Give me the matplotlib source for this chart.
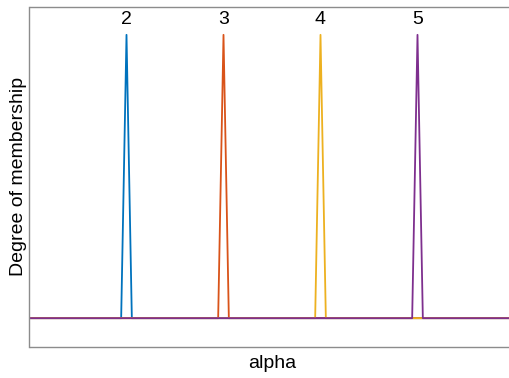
import matplotlib.pyplot as plt
import numpy as np

plt.rcParams["font.family"] = ["Liberation Sans", "DejaVu Sans"]

# triangular membership functions: (left foot, peak, right foot)
names = ["2", "3", "4", "5"]
left_feet = [1.945, 2.945, 3.945, 4.945]
peaks = [2.0, 3.0, 4.0, 5.0]
right_feet = [2.055, 3.055, 4.055, 5.055]
colors = ["#0072BD", "#D95319", "#EDB120", "#7E2F8E"]

x_range = (1.0, 6.0)
y_range = (-0.1, 1.1)


def trimf(x, a, b, c):
    up = (x - a) / (b - a)
    down = (c - x) / (c - b)
    return np.clip(np.minimum(up, down), 0, 1)


fig = plt.figure(figsize=(5.10, 3.78), dpi=100)
ax = fig.add_axes([29.5 / 510, 31.5 / 378, 485 / 510, 340 / 378])

for name, a, b, c, col in zip(names, left_feet, peaks, right_feet, colors):
    xs = np.array([x_range[0], a, b, c, x_range[1]])
    ax.plot(xs, trimf(xs, a, b, c), color=col, lw=1.3)
    ax.text(b, 1.025, name, ha="center", va="bottom", fontsize=14)

ax.set_xlim(*x_range)
ax.set_ylim(*y_range)
ax.set_xticks([])
ax.set_yticks([])
ax.spines["right"].set_visible(False)
for side in ["top", "left", "bottom"]:
    ax.spines[side].set_color("#8c8c8c")
    ax.spines[side].set_linewidth(1.0)

ax.set_xlabel("alpha", fontsize=14, labelpad=6)
ax.set_ylabel("Degree of membership", fontsize=14, labelpad=2)

fig.savefig("out.png", dpi=100)
